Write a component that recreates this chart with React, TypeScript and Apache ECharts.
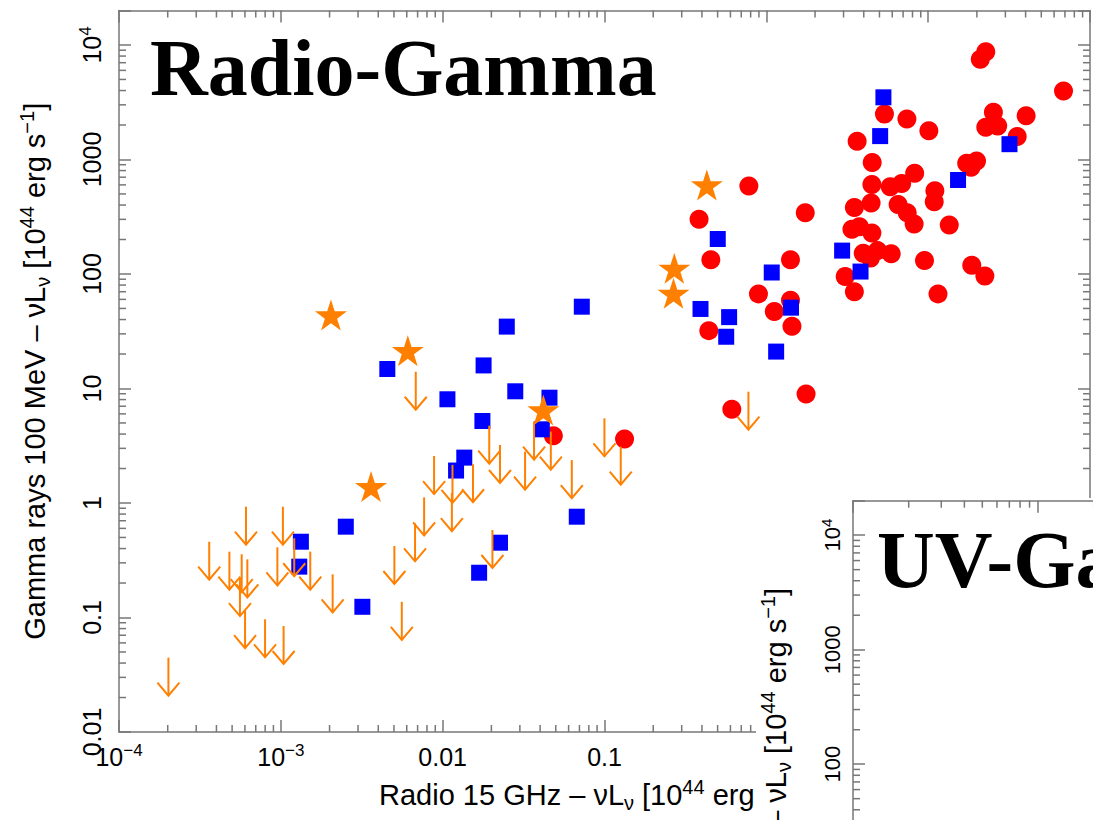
import React, { useEffect, useRef } from "react";
import * as echarts from "echarts";

// ---- Data: [radio 15 GHz nuLnu, gamma 100 MeV nuLnu] in 1e44 erg/s ----
const redCircles: [number, number][] = [
  [22.7, 8740], [21.0, 7500], [68.6, 3960], [5.37, 2500], [7.39, 2260],
  [10.1, 1780], [25.3, 2580], [26.9, 1960], [22.7, 1910], [40.3, 2410],
  [35.5, 1590], [3.64, 1440], [4.51, 942], [17.3, 926], [19.9, 970],
  [18.4, 855], [8.25, 758], [4.49, 605], [5.83, 579], [6.86, 617],
  [11.0, 533], [10.9, 428], [4.44, 417], [3.5, 381], [6.52, 405],
  [7.42, 343], [8.19, 273], [13.5, 268], [3.38, 246], [3.76, 259],
  [4.49, 228], [3.97, 152], [4.87, 160], [4.4, 138], [5.91, 150],
  [9.49, 131], [18.6, 119], [22.4, 96], [3.07, 95], [3.5, 70],
  [11.5, 67], [0.78, 587], [0.384, 301], [1.74, 343], [0.454, 133],
  [1.41, 133], [0.894, 67], [1.41, 59], [1.12, 47], [1.44, 35],
  [0.441, 32], [1.76, 8.95], [0.612, 6.58], [0.0483, 3.87], [0.133, 3.62],
];

const blueSquares: [number, number][] = [
  [5.29, 3490], [5.05, 1600], [31.8, 1360], [15.3, 662], [0.501, 202],
  [1.08, 103], [2.94, 160], [3.82, 105], [0.392, 49.5], [0.589, 42],
  [0.565, 28.3], [1.42, 50.8], [1.15, 21], [0.0724, 51.8], [0.0249, 34.7],
  [0.00455, 14.8], [0.0179, 15.9], [0.0107, 8.05], [0.0281, 9.45], [0.0457, 8.31],
  [0.0176, 5.2], [0.041, 4.4], [0.0136, 2.49], [0.0121, 1.92], [0.0674, 0.759],
  [0.00252, 0.621], [0.00133, 0.459], [0.0013, 0.278], [0.0226, 0.45], [0.0168, 0.246],
  [0.00319, 0.124],
];

const orangeStars: [number, number][] = [
  [0.429, 599], [0.27, 112], [0.267, 67.8], [0.00204, 43.8],
  [0.00609, 21.4], [0.0419, 6.49], [0.00361, 1.39],
];

const upperLimits: [number, number][] = [
  [0.000202, 0.0446], [0.000361, 0.459], [0.000481, 0.376], [0.000573, 0.357],
  [0.000621, 0.322], [0.000559, 0.221], [0.000601, 0.116], [0.000799, 0.0964],
  [0.00104, 0.0843], [0.000609, 0.928], [0.00103, 0.928], [0.000952, 0.41],
  [0.00121, 0.492], [0.00152, 0.376], [0.00209, 0.238], [0.00503, 0.421],
  [0.00559, 0.137], [0.00768, 1.12], [0.00675, 0.665], [0.00682, 14.0],
  [0.0194, 4.73], [0.0226, 3.21], [0.00885, 2.57], [0.0115, 2.15],
  [0.0154, 2.18], [0.0114, 1.22], [0.0323, 2.81], [0.0367, 5.13],
  [0.0466, 4.2], [0.0628, 2.37], [0.0999, 5.49], [0.126, 3.1],
  [0.0203, 0.581], [0.775, 9.38],
];

// ---- Axes ----
const X_MIN = 1e-4;
const X_MAX = 100;
const Y_MIN = 0.01;
const Y_MAX = 2e4;
// labels at 1, 10, 100 lie under the inset panel in the reference, so they are left blank
const X_TICK_VALUES = [1e-4, 1e-3, 0.01, 0.1];
const X_TICK_LABELS = ["10{sup|−4}", "10{sup|−3}", "0.01", "0.1"];
const Y_TICK_VALUES = [0.01, 0.1, 1, 10, 100, 1000, 1e4];
const Y_TICK_LABELS = ["0.01", "0.1", "1", "10", "100", "1000", "10{sup|4}"];

const UV_X_MIN = 0.1;
const UV_X_MAX = 1e5;
const UV_Y_MIN = 10;
const UV_Y_MAX = 2e4;
const UV_Y_TICK_VALUES = [100, 1000, 1e4];
const UV_Y_TICK_LABELS = ["100", "1000", "10{sup|4}"];

const MINOR_MULTIPLIERS = [2, 3, 4, 5, 6, 7, 8, 9];

const TITLE_MAIN = "Radio-Gamma";
const TITLE_UV = "UV-Gamma";
const X_NAME = "Radio 15 GHz – νL{sub|ν} [10{sup|44} erg s{sup|−1}]";
const Y_NAME = "Gamma rays 100 MeV – νL{sub|ν} [10{sup|44} erg s{sup|−1}]";

const AXIS_COLOR = "#777777";
const SANS = '"Liberation Sans", Arial, Helvetica, sans-serif';
const SERIF = '"Liberation Serif", "Times New Roman", serif';
const RED = "#ff0000";
const BLUE = "#0000ff";
const ORANGE = "#ff8000";

const STAR_PATH =
  "path://M50,0L61.23,34.55L97.55,34.55L68.17,55.9L79.39,90.45L50,69.1L20.61,90.45L31.83,55.9L2.45,34.55L38.77,34.55Z";

function minorTicks(min: number, max: number): number[] {
  const out: number[] = [];
  const e0 = Math.floor(Math.log10(min));
  const e1 = Math.ceil(Math.log10(max));
  for (let e = e0; e <= e1; e++) {
    for (const m of MINOR_MULTIPLIERS) {
      const v = m * Math.pow(10, e);
      if (v > min * 1.0001 && v < max * 0.9999) out.push(v);
    }
  }
  return out;
}

function makeFormatter(values: number[], labels: string[]) {
  return (v: number) => {
    const lv = Math.log10(v);
    for (let i = 0; i < values.length; i++) {
      if (Math.abs(Math.log10(values[i]) - lv) < 1e-6) return labels[i];
    }
    return "";
  };
}

const lineStyle = { color: AXIS_COLOR, width: 1.5 };

function frameAxis(extra: any) {
  return {
    type: "log",
    logBase: 10,
    axisLine: { show: true, onZero: false, lineStyle },
    axisTick: { show: true, inside: true, length: 12, lineStyle },
    splitLine: { show: false },
    minorTick: { show: false },
    ...extra,
  };
}

export default function App() {
  const ref = useRef<HTMLDivElement>(null);

  useEffect(() => {
    if (!ref.current) return;
    const chart = echarts.init(ref.current, null, { renderer: "svg" });

    const tickStyle = { stroke: AXIS_COLOR, lineWidth: 1.5 };
    const MINOR_LEN = 7;

    const xMinorSeries = (xIdx: number, yIdx: number, xmin: number, xmax: number, ymin: number, ymax: number, z: number) => ({
      type: "custom",
      xAxisIndex: xIdx,
      yAxisIndex: yIdx,
      silent: true,
      z,
      clip: false,
      data: minorTicks(xmin, xmax).map((v) => [v, ymin]),
      renderItem: (_p: any, api: any) => {
        const v = api.value(0);
        const b = api.coord([v, ymin]);
        const t = api.coord([v, ymax]);
        return {
          type: "group",
          children: [
            { type: "line", shape: { x1: b[0], y1: b[1], x2: b[0], y2: b[1] - MINOR_LEN }, style: tickStyle },
            { type: "line", shape: { x1: t[0], y1: t[1], x2: t[0], y2: t[1] + MINOR_LEN }, style: tickStyle },
          ],
        };
      },
    });

    const yMinorSeries = (xIdx: number, yIdx: number, xmin: number, xmax: number, ymin: number, ymax: number, z: number) => ({
      type: "custom",
      xAxisIndex: xIdx,
      yAxisIndex: yIdx,
      silent: true,
      z,
      clip: false,
      data: minorTicks(ymin, ymax).map((v) => [xmin, v]),
      renderItem: (_p: any, api: any) => {
        const v = api.value(1);
        const l = api.coord([xmin, v]);
        const r = api.coord([xmax, v]);
        return {
          type: "group",
          children: [
            { type: "line", shape: { x1: l[0], y1: l[1], x2: l[0] + MINOR_LEN, y2: l[1] }, style: tickStyle },
            { type: "line", shape: { x1: r[0], y1: r[1], x2: r[0] - MINOR_LEN, y2: r[1] }, style: tickStyle },
          ],
        };
      },
    });

    const labelRich = {
      sup: { fontSize: 17, lineHeight: 17, fontFamily: SANS, color: "#000", verticalAlign: "top" },
    };
    const nameRich = {
      sub: { fontSize: 20, lineHeight: 20, fontFamily: SANS, color: "#000", verticalAlign: "bottom" },
      sup: { fontSize: 20, lineHeight: 20, fontFamily: SANS, color: "#000", verticalAlign: "top" },
    };
    const nameStyle = { fontSize: 29, lineHeight: 36, fontFamily: SANS, color: "#000", rich: nameRich };

    const option: any = {
      animation: false,
      backgroundColor: "#ffffff",
      grid: [
        { left: 119, top: 10.5, width: 971, height: 721.5, containLabel: false, outerBoundsMode: "none" },
        { left: 853, top: 500.7, width: 1110, height: 378, containLabel: false, outerBoundsMode: "none" },
      ],
      xAxis: [
        frameAxis({
          gridIndex: 0, position: "bottom", min: X_MIN, max: X_MAX,
          axisLabel: {
            show: true, margin: 10, fontSize: 25, lineHeight: 30, fontFamily: SANS, color: "#000",
            formatter: makeFormatter(X_TICK_VALUES, X_TICK_LABELS), rich: labelRich,
          },
          name: X_NAME, nameLocation: "middle", nameGap: 31,
          nameTextStyle: { ...nameStyle, padding: [0, 22, 0, 0] },
        }),
        frameAxis({ gridIndex: 0, position: "top", min: X_MIN, max: X_MAX, axisLabel: { show: false } }),
        frameAxis({ gridIndex: 1, position: "top", min: UV_X_MIN, max: UV_X_MAX, axisLabel: { show: false }, z: 110 }),
      ],
      yAxis: [
        frameAxis({
          gridIndex: 0, position: "left", min: Y_MIN, max: Y_MAX,
          axisLabel: {
            show: true, rotate: 90, margin: 12, fontSize: 25, lineHeight: 30, fontFamily: SANS, color: "#000",
            formatter: makeFormatter(Y_TICK_VALUES, Y_TICK_LABELS), rich: labelRich,
          },
          name: Y_NAME, nameLocation: "middle", nameGap: 66, nameTextStyle: nameStyle,
        }),
        frameAxis({ gridIndex: 0, position: "right", min: Y_MIN, max: Y_MAX, axisLabel: { show: false } }),
        frameAxis({
          gridIndex: 1, position: "left", min: UV_Y_MIN, max: UV_Y_MAX, z: 110,
          axisLabel: {
            show: true, rotate: 90, margin: 8, fontSize: 22, lineHeight: 26, fontFamily: SANS, color: "#000",
            formatter: makeFormatter(UV_Y_TICK_VALUES, UV_Y_TICK_LABELS),
            rich: { sup: { fontSize: 15, lineHeight: 15, fontFamily: SANS, color: "#000", verticalAlign: "top" } },
          },
        }),
      ],
      series: [
        xMinorSeries(0, 0, X_MIN, X_MAX, Y_MIN, Y_MAX, 1),
        yMinorSeries(0, 0, X_MIN, X_MAX, Y_MIN, Y_MAX, 1),
        {
          type: "scatter", name: "red", xAxisIndex: 0, yAxisIndex: 0, z: 2,
          symbol: "circle", symbolSize: 19, itemStyle: { color: RED, opacity: 1 },
          data: redCircles,
        },
        {
          type: "scatter", name: "blue", xAxisIndex: 0, yAxisIndex: 0, z: 3,
          symbol: "rect", symbolSize: 16, itemStyle: { color: BLUE, opacity: 1 },
          data: blueSquares,
        },
        {
          type: "custom", name: "upper limits", xAxisIndex: 0, yAxisIndex: 0, z: 4,
          data: upperLimits,
          renderItem: (_p: any, api: any) => {
            const p = api.coord([api.value(0), api.value(1)]);
            const x = p[0];
            const y = p[1];
            const L = 38;
            const HW = 11;
            const HH = 13;
            const st = { stroke: ORANGE, lineWidth: 2, fill: "none" };
            return {
              type: "group",
              children: [
                { type: "line", shape: { x1: x, y1: y, x2: x, y2: y + L }, style: st },
                { type: "polyline", shape: { points: [[x - HW, y + L - HH], [x, y + L], [x + HW, y + L - HH]] }, style: st },
              ],
            };
          },
        },
        {
          type: "scatter", name: "stars", xAxisIndex: 0, yAxisIndex: 0, z: 5,
          symbol: STAR_PATH, symbolSize: [32, 31], itemStyle: { color: ORANGE, opacity: 1 },
          data: orangeStars,
        },
        xMinorSeries(2, 2, UV_X_MIN, UV_X_MAX, UV_Y_MIN, UV_Y_MAX, 111),
        yMinorSeries(2, 2, UV_X_MIN, UV_X_MAX, UV_Y_MIN, UV_Y_MAX, 111),
      ],
      graphic: [
        {
          type: "text", x: 150, y: 68, z: 50,
          style: {
            text: TITLE_MAIN, fontFamily: SERIF, fontWeight: "bold", fontSize: 80, fill: "#000",
            verticalAlign: "middle", textVerticalAlign: "middle",
          },
        },
        {
          type: "rect", x: 756, y: 498, z: 100,
          shape: { width: 400, height: 400 },
          style: { fill: "#ffffff" },
        },
        {
          type: "text", x: 877, y: 560, z: 120,
          style: {
            text: TITLE_UV, fontFamily: SERIF, fontWeight: "bold", fontSize: 80, fill: "#000",
            verticalAlign: "middle", textVerticalAlign: "middle",
          },
        },
        {
          type: "text", x: 776, y: 588, z: 120, rotation: Math.PI / 2,
          style: {
            text: Y_NAME, fontFamily: SANS, fontSize: 29, lineHeight: 36, fill: "#000", rich: nameRich,
            align: "right", textAlign: "right", verticalAlign: "middle", textVerticalAlign: "middle",
          },
        },
      ],
    };

    chart.setOption(option);
    return () => chart.dispose();
  }, []);

  return (
    <div
      ref={ref}
      style={{ position: "fixed", left: 0, top: 0, width: 1093, height: 820, background: "#fff" }}
    />
  );
}
